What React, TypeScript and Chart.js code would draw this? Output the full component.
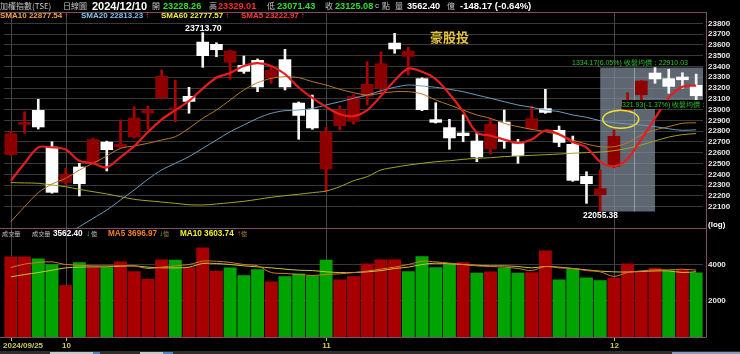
import React, { useEffect, useRef } from "react";
import { Chart, registerables } from "chart.js";

Chart.register(...registerables);

// ---------------- data ----------------
const dates = [
  "2024/09/25", "2024/09/26", "2024/09/27", "2024/09/30",
  "2024/10/01", "2024/10/04", "2024/10/07", "2024/10/08", "2024/10/09", "2024/10/11", "2024/10/14", "2024/10/15",
  "2024/10/16", "2024/10/17", "2024/10/18", "2024/10/21", "2024/10/22", "2024/10/23", "2024/10/24", "2024/10/25",
  "2024/10/28", "2024/10/29", "2024/10/30",
  "2024/11/01", "2024/11/04", "2024/11/05", "2024/11/06", "2024/11/07", "2024/11/08", "2024/11/11", "2024/11/12",
  "2024/11/13", "2024/11/14", "2024/11/15", "2024/11/18", "2024/11/19", "2024/11/20", "2024/11/21", "2024/11/22",
  "2024/11/25", "2024/11/26", "2024/11/27", "2024/11/28", "2024/11/29",
  "2024/12/02", "2024/12/03", "2024/12/04", "2024/12/05", "2024/12/06", "2024/12/09", "2024/12/10",
];

const openP = [22580, 22860, 22996, 22656, 22322, 22471, 22508, 22702, 22650, 22743, 22966, 23105, 23000, 23126, 23629, 23608, 23435, 23413, 23460, 23290, 23466, 23064, 23003, 22447, 22848, 22888, 23120, 23197, 23620, 23490, 23290, 22910, 22836, 22786, 22712, 22632, 22888, 22688, 22817, 23012, 22811, 22681, 22384, 22208, 22471, 22996, 23135, 23342, 23290, 23305, 23228.26];
const highP = [22800, 22980, 23095, 22702, 22456, 22502, 22735, 22708, 22904, 23027, 23033, 23367, 23274, 23207, 23713.7, 23620, 23550, 23497, 23470, 23404, 23559, 23070, 23135, 22836, 23033, 23140, 23444, 23537, 23707, 23578, 23295, 23064, 22910, 22952, 22780, 22919, 22996, 22725, 23033, 23188, 22848, 22755, 22424, 22440, 22811, 23157, 23270, 23389.55, 23374, 23342, 23329.01];
const lowP = [22575, 22780, 22820, 22225, 22310, 22199, 22500, 22431, 22645, 22738, 22817, 23100, 22888, 22966, 23392, 23490, 23281, 23336, 23166, 23244, 23182, 22725, 22817, 22239, 22811, 22866, 23043, 23151, 23522, 23321, 22990, 22875, 22632, 22702, 22517, 22588, 22641, 22502, 22810, 22965, 22656, 22335, 22131, 22055.38, 22460, 22981, 23058, 23244, 23151, 23197, 23071.43];
const closeP = [22780, 22885, 22836, 22230, 22403, 22310, 22725, 22625, 22681, 22925, 22996, 23311, 23015, 23073, 23497, 23552, 23546, 23351, 23207, 23367, 23207, 22943, 22827, 22795, 22996, 23126, 23237, 23429, 23559, 23546, 22996, 22879, 22734, 22755, 22558, 22866, 22702, 22570, 22919, 22971, 22693, 22341, 22310, 22270, 22755, 23033, 23268, 23281, 23212, 23273.25, 23125.08];

const volume = [4448, 4448, 4337, 4022, 2862, 4133, 3856, 3856, 4171, 3635, 3215, 4282, 4265, 3856, 4945, 3657, 3840, 3414, 3746, 3066, 3359, 3508, 3398, 4265, 3177, 3359, 4061, 4282, 4282, 3635, 4464, 3856, 4077, 4133, 3547, 3619, 3823, 3547, 3580, 4779, 3177, 3785, 3287, 3138, 3271, 4061, 3635, 3823, 3674, 3729, 3562.4];

const sma5 = [22341, 22502, 22650, 22650, 22630, 22525, 22502, 22465, 22560, 22660, 22792, 22908, 22995, 23080, 23195, 23295, 23340, 23404, 23430, 23405, 23330, 23205, 23108, 23025, 22957, 22940, 22996, 23125, 23270, 23380, 23350, 23282, 23145, 22982, 22786, 22758, 22722, 22692, 22722, 22806, 22772, 22700, 22648, 22518, 22475, 22545, 22725, 22920, 23110, 23212, 23222.97];
const sma10 = [21961, 22100, 22230, 22310, 22363, 22440, 22502, 22570, 22641, 22663, 22688, 22718, 22749, 22827, 22919, 22996, 23089, 23182, 23249, 23290, 23305, 23296, 23259, 23228, 23188, 23157, 23135, 23151, 23166, 23166, 23145, 23089, 23043, 22996, 22950, 22919, 22873, 22842, 22817, 22795, 22765, 22718, 22681, 22656, 22656, 22693, 22765, 22811, 22842, 22873, 22877.54];
const sma20 = [null, null, null, null, 21840, 21915, 21992, 22069, 22162, 22255, 22354, 22440, 22502, 22564, 22641, 22718, 22795, 22857, 22919, 22966, 22990, 22996, 23012, 23043, 23073, 23105, 23135, 23175, 23207, 23228, 23219, 23207, 23188, 23166, 23135, 23105, 23073, 23043, 23021, 22996, 22981, 22950, 22929, 22897, 22879, 22866, 22857, 22842, 22822, 22808, 22813.23];
const sma60 = [22323, 22320, 22317, 22301, 22285, 22261, 22239, 22218, 22193, 22168, 22155, 22143, 22131, 22118, 22116, 22125, 22137, 22150, 22168, 22187, 22202, 22215, 22230, 22245, 22285, 22341, 22378, 22440, 22465, 22486, 22502, 22517, 22526, 22539, 22548, 22554, 22564, 22570, 22576, 22582, 22588, 22595, 22601, 22607, 22619, 22641, 22672, 22710, 22745, 22768, 22777.57];

const volMa5 = [3840, 4025, 4120, 4150, 4005, 3965, 3930, 3930, 3930, 3930, 3785, 3860, 3930, 4005, 4187, 4187, 4120, 4005, 3930, 3560, 3510, 3455, 3400, 3455, 3490, 3560, 3640, 3750, 3860, 4005, 4187, 4150, 4080, 4005, 3930, 3895, 3860, 3785, 3670, 3895, 3820, 3785, 3670, 3600, 3345, 3565, 3650, 3710, 3710, 3745, 3696.97];
const volMa10 = [3322, 3450, 3560, 3690, 3820, 3860, 3875, 3875, 3910, 3930, 3860, 3820, 3820, 3860, 4060, 4060, 4005, 3930, 3875, 3820, 3750, 3690, 3670, 3600, 3560, 3560, 3600, 3670, 3785, 3860, 4005, 4080, 4040, 4005, 3965, 3930, 3930, 3895, 3820, 3895, 3860, 3785, 3710, 3640, 3600, 3590, 3620, 3650, 3650, 3565, 3603.74];

const priceTicks = [22100, 22200, 22300, 22400, 22500, 22600, 22700, 22800, 22900, 23000, 23100, 23200, 23300, 23400, 23500, 23600, 23700, 23800];
const volTicks = [2000, 4000];
const monthTickDates = ["2024/09/25", "2024/10/01", "2024/11/01", "2024/12/02"];
const monthTickLabels = ["2024/09/25", "10", "11", "12"];

const measureFromDate = "2024/11/29";
const measureToDate = "2024/12/05";
const retrace = 321.93;
const avgClosePrice = 22910.03;
const measureText1 = "1334.17(6.05%) 收盤均價：22910.03";
const measureText2 = "321.93(-1.37%) 收盤均價：2";

// axis ranges
const PRICE_MIN = 21902.4;
const PRICE_MAX = 23904.8;
const VOL_MAX = 6022;

// ---------------- helpers ----------------
const FONT = '"Liberation Sans", Arial, "DejaVu Sans", sans-serif';
const CJK = '"Noto Sans CJK TC", "Noto Sans CJK SC", sans-serif';
const RED = "#ff2a2a";
const GREEN = "#2ee02e";
const GRAY = "#c4c4c4";
const BORDER = "#7a5068";

const L = dates.length - 1;
const isUp = (i: number) => closeP[i] >= openP[i];
const volUp = (i: number) => (i === 0 ? isUp(0) : closeP[i] >= closeP[i - 1]);
const monthIdx = monthTickDates.map((d) => dates.indexOf(d));
const fromIdx = dates.indexOf(measureFromDate);
const toIdx = dates.indexOf(measureToDate);
const fmt = (v: number) => v.toFixed(2);
const arrow = (arr: (number | null)[]) => ((arr[L] as number) >= (arr[L - 1] as number) ? "↑" : "↓");
const arrowColor = (arr: (number | null)[]) => ((arr[L] as number) >= (arr[L - 1] as number) ? RED : GREEN);

const monthLines = {
  id: "monthLines",
  beforeDatasetsDraw(chart: any) {
    const { ctx, chartArea, scales } = chart;
    ctx.save();
    ctx.strokeStyle = "#474747";
    ctx.lineWidth = 1;
    monthIdx.forEach((i) => {
      const px = Math.round(scales.x.getPixelForValue(i)) + 0.5;
      ctx.beginPath();
      ctx.moveTo(px, chartArea.top);
      ctx.lineTo(px, chartArea.bottom);
      ctx.stroke();
    });
    ctx.restore();
  },
};

const borderPlugin = {
  id: "borders",
  afterDraw(chart: any) {
    const { ctx, chartArea } = chart;
    const r = Math.round(chartArea.right) + 3.5;
    ctx.save();
    ctx.strokeStyle = BORDER;
    ctx.lineWidth = 1;
    ctx.beginPath();
    ctx.moveTo(0, Math.round(chartArea.top) + 0.5);
    ctx.lineTo(r, Math.round(chartArea.top) + 0.5);
    ctx.moveTo(r, chartArea.top);
    ctx.lineTo(r, chartArea.bottom);
    ctx.moveTo(0, Math.round(chartArea.bottom) + 0.5);
    ctx.lineTo(r, Math.round(chartArea.bottom) + 0.5);
    ctx.stroke();
    ctx.restore();
  },
};

const measurePlugin = {
  id: "measure",
  beforeDatasetsDraw(chart: any) {
    const { ctx, chartArea, scales } = chart;
    const { x, y } = scales;
    const x0 = x.getPixelForValue(fromIdx);
    const x1 = x.getPixelForValue(toIdx);
    const yTop = y.getPixelForValue(highP[toIdx]);
    const yBot = y.getPixelForValue(lowP[fromIdx]);
    const yB = y.getPixelForValue(highP[toIdx] - retrace);
    ctx.save();
    ctx.fillStyle = "rgba(130,142,158,0.72)";
    ctx.fillRect(x0, yTop, x1 - x0, yBot - yTop);
    ctx.fillRect(x1, yTop, chartArea.right - x1, yB - yTop);
    const xm = Math.round(x.getPixelForValue((fromIdx + toIdx) / 2 + 0.5)) + 0.5;
    ctx.strokeStyle = "rgba(170,205,200,0.55)";
    ctx.beginPath();
    ctx.moveTo(xm, yTop);
    ctx.lineTo(xm, yBot);
    ctx.stroke();
    ctx.restore();
  },
  afterDatasetsDraw(chart: any) {
    const { ctx, scales } = chart;
    const cx = scales.x.getPixelForValue(fromIdx + 1.5);
    const cy = scales.y.getPixelForValue(avgClosePrice);
    ctx.save();
    ctx.strokeStyle = "#ece22a";
    ctx.lineWidth = 1.5;
    ctx.beginPath();
    ctx.ellipse(cx, cy, 18, 9, 0, 0, Math.PI * 2);
    ctx.stroke();
    ctx.restore();
  },
};

const xLabels = {
  id: "xLabels",
  afterDraw(chart: any) {
    const { ctx, chartArea, scales } = chart;
    ctx.save();
    ctx.strokeStyle = "#c8c45a";
    ctx.fillStyle = "#cdca5e";
    ctx.font = `bold 8px ${FONT}`;
    ctx.textBaseline = "middle";
    ctx.textAlign = "left";
    monthIdx.forEach((idx, k) => {
      const px = Math.round(scales.x.getPixelForValue(idx)) + 0.5;
      ctx.beginPath();
      ctx.moveTo(px, chartArea.bottom + 1);
      ctx.lineTo(px, chartArea.bottom + 4);
      ctx.stroke();
      const label = monthTickLabels[k];
      const w = ctx.measureText(label).width;
      const left = Math.max(3, px - w / 2);
      ctx.fillText(label, left, chartArea.bottom + 9);
    });
    ctx.restore();
  },
};

function yAxis(min: number, max: number, ticks: number[]) {
  return {
    position: "right",
    min,
    max,
    afterFit: (s: any) => {
      s.width = 37;
    },
    afterBuildTicks: (s: any) => {
      s.ticks = ticks.map((v) => ({ value: v }));
    },
    ticks: {
      autoSkip: false,
      color: "#e8e8e8",
      padding: 5,
      font: { family: FONT, size: 8, weight: "bold" },
      callback: (v: any) => String(v),
    },
    grid: { color: "#393939", drawTicks: false },
    border: { display: false },
  };
}

function priceConfig(): any {
  return {
    type: "bar",
    data: {
      labels: dates,
      datasets: [
        { type: "line", label: "SMA5", data: sma5, borderColor: "#e81c1c", borderWidth: 2.2, pointRadius: 0, tension: 0.3, order: 0 },
        { type: "line", label: "SMA10", data: sma10, borderColor: "#b8782c", borderWidth: 1, pointRadius: 0, tension: 0.3, order: 1 },
        { type: "line", label: "SMA20", data: sma20, borderColor: "#6a9cbc", borderWidth: 1, pointRadius: 0, tension: 0.3, order: 1 },
        { type: "line", label: "SMA60", data: sma60, borderColor: "#a4a426", borderWidth: 1, pointRadius: 0, tension: 0.3, order: 1 },
        {
          type: "bar",
          label: "body",
          data: openP.map((o, i) => [o, closeP[i]]),
          backgroundColor: (c: any) => (isUp(c.dataIndex) ? "#8e0000" : "#ffffff"),
          grouped: false,
          barPercentage: 0.92,
          categoryPercentage: 1,
          minBarLength: 2,
          order: 2,
        },
        {
          type: "bar",
          label: "wick",
          data: lowP.map((l, i) => [l, highP[i]]),
          backgroundColor: (c: any) => (isUp(c.dataIndex) ? "#b00000" : "#f4f4f4"),
          grouped: false,
          barThickness: 2,
          order: 3,
        },
      ],
    },
    options: {
      responsive: false,
      animation: false,
      devicePixelRatio: 1,
      layout: { padding: { left: 4, right: 0, top: 12, bottom: 126 } },
      plugins: { legend: { display: false }, tooltip: { enabled: false } },
      scales: {
        x: { display: false, offset: true },
        y: yAxis(PRICE_MIN, PRICE_MAX, priceTicks),
      },
    },
    plugins: [monthLines, measurePlugin, borderPlugin],
  };
}

function volConfig(): any {
  return {
    type: "bar",
    data: {
      labels: dates,
      datasets: [
        { type: "line", label: "MA5", data: volMa5, borderColor: "#d27a2a", borderWidth: 1, pointRadius: 0, tension: 0.3, order: 0 },
        { type: "line", label: "MA10", data: volMa10, borderColor: "#c8c83a", borderWidth: 1, pointRadius: 0, tension: 0.3, order: 0 },
        {
          type: "bar",
          label: "vol",
          data: volume,
          backgroundColor: (c: any) => (volUp(c.dataIndex) ? "#a80000" : "#00a400"),
          barPercentage: 0.94,
          categoryPercentage: 1,
          order: 1,
        },
      ],
    },
    options: {
      responsive: false,
      animation: false,
      devicePixelRatio: 1,
      layout: { padding: { left: 4, right: 0, top: 228, bottom: 17 } },
      plugins: { legend: { display: false }, tooltip: { enabled: false } },
      scales: {
        x: { display: false, offset: true },
        y: yAxis(0, VOL_MAX, volTicks),
      },
    },
    plugins: [monthLines, xLabels, borderPlugin],
  };
}

type TP = { x: number; y: number; size: number; color: string; bold?: boolean; cjk?: boolean; bg?: string; children: React.ReactNode };
function T({ x, y, size, color, bold, cjk, bg, children }: TP) {
  const lh = Math.round(size * 1.25);
  return (
    <div
      style={{
        position: "absolute",
        left: x,
        top: y - lh / 2,
        height: lh,
        lineHeight: lh + "px",
        fontSize: size,
        color,
        fontWeight: bold ? 700 : 400,
        fontFamily: cjk ? CJK : FONT,
        whiteSpace: "nowrap",
        background: bg,
      }}
    >
      {children}
    </div>
  );
}

export default function App() {
  const priceRef = useRef<HTMLCanvasElement>(null);
  const volRef = useRef<HTMLCanvasElement>(null);

  useEffect(() => {
    document.body.style.margin = "0";
    document.body.style.background = "#000";
    const pc = new Chart(priceRef.current as HTMLCanvasElement, priceConfig());
    const vc = new Chart(volRef.current as HTMLCanvasElement, volConfig());
    return () => {
      pc.destroy();
      vc.destroy();
    };
  }, []);

  const prevC = closeP[L - 1];
  const pc = (v: number) => (v >= prevC ? RED : GREEN);
  const chg = closeP[L] - prevC;
  const pct = (chg / prevC) * 100;
  const maxHigh = Math.max(...highP);
  const minLow = Math.min(...lowP);

  return (
    <div style={{ position: "relative", width: 740, height: 354, background: "#000", overflow: "hidden" }}>
      <canvas ref={priceRef} width={740} height={354} style={{ position: "absolute", left: 0, top: 0 }} />
      <canvas ref={volRef} width={740} height={354} style={{ position: "absolute", left: 0, top: 0 }} />

      {/* header row 1 */}
      <T x={0} y={5.5} size={8} color={GRAY} cjk>加權指數(TSE)</T>
      <T x={63} y={5.5} size={8} color={GRAY} cjk>日線圖</T>
      <T x={92} y={5.5} size={11} color="#ffffff" bold>{dates[L]}</T>
      <T x={152} y={5.5} size={8} color={GRAY} cjk>開</T>
      <T x={163} y={5.5} size={9.2} color={pc(openP[L])} bold>{fmt(openP[L])}</T>
      <T x={209} y={5.5} size={8} color={GRAY} cjk>高</T>
      <T x={218} y={5.5} size={9.2} color={pc(highP[L])} bold>{fmt(highP[L])}</T>
      <T x={267} y={5.5} size={8} color={GRAY} cjk>低</T>
      <T x={277} y={5.5} size={9.2} color={pc(lowP[L])} bold>{fmt(lowP[L])}</T>
      <T x={325} y={5.5} size={8} color={GRAY} cjk>收</T>
      <T x={335} y={5.5} size={9.2} color={pc(closeP[L])} bold>{fmt(closeP[L])}</T>
      <T x={375} y={5.5} size={8} color={GRAY}>c</T>
      <T x={382} y={5.5} size={8} color={GRAY} cjk>點</T>
      <T x={395} y={5.5} size={8} color={GRAY} cjk>量</T>
      <T x={407} y={5.5} size={9.2} color="#ffffff" bold>{fmt(volume[L])}</T>
      <T x={447} y={5.5} size={8} color={GRAY} cjk>億</T>
      <T x={460} y={5.5} size={9.5} color="#ffffff" bold>{`${fmt(chg)} (${pct.toFixed(2)}%)`}</T>

      {/* header row 2 : moving averages */}
      <T x={0} y={16.2} size={8} color="#f0a040" bold>
        {`SMA10 ${fmt(sma10[L])}`}<span style={{ color: arrowColor(sma10), marginLeft: 2 }}>{arrow(sma10)}</span>
      </T>
      <T x={81} y={16.2} size={8} color="#78c8f0" bold>
        {`SMA20 ${fmt(sma20[L] as number)}`}<span style={{ color: arrowColor(sma20), marginLeft: 2 }}>{arrow(sma20)}</span>
      </T>
      <T x={161} y={16.2} size={8} color="#f0f038" bold>
        {`SMA60 ${fmt(sma60[L])}`}<span style={{ color: arrowColor(sma60), marginLeft: 2 }}>{arrow(sma60)}</span>
      </T>
      <T x={241} y={16.2} size={8} color="#ff3a3a" bold>
        {`SMA5 ${fmt(sma5[L])}`}<span style={{ color: arrowColor(sma5), marginLeft: 2 }}>{arrow(sma5)}</span>
      </T>

      {/* price annotations */}
      <T x={185} y={28} size={8.8} color="#ffffff" bold>{fmt(maxHigh)}</T>
      <T x={583} y={215.5} size={8.4} color="#ffffff" bold>{fmt(minLow)}</T>
      <T x={430} y={37} size={13} color="#e6c43c" bold cjk>豪股投</T>
      <T x={572} y={62} size={7} color="#2cc82c">{measureText1}</T>
      <div style={{ position: "absolute", left: 622, top: 100, width: 83, height: 9, overflow: "hidden" }}>
        <div style={{ position: "absolute", left: 0, top: 0, height: 9, lineHeight: "9px", fontSize: 7, color: "#2cc82c", fontFamily: FONT, whiteSpace: "nowrap", background: "#000" }}>
          {measureText2}
        </div>
      </div>
      <T x={708} y={225} size={8} color="#ffffff" bold>(log)</T>

      {/* volume header */}
      <T x={2} y={234} size={6.2} color={GRAY} cjk>成交量</T>
      <T x={32} y={234} size={6.2} color={GRAY} cjk>成交量</T>
      <T x={53} y={234} size={8.2} color="#ffffff" bold>{fmt(volume[L])}</T>
      <T x={86} y={234} size={8} color={arrowColor(volume)} bold>{arrow(volume)}</T>
      <T x={91} y={234} size={6.2} color={GRAY} cjk>億</T>
      <T x={108} y={234} size={8.2} color="#f08028" bold>{`MA5 ${fmt(volMa5[L])}`}</T>
      <T x={159} y={234} size={8} color={arrowColor(volMa5)} bold>{arrow(volMa5)}</T>
      <T x={163} y={234} size={6.2} color="#b08040" cjk>億</T>
      <T x={180} y={234} size={8.2} color="#f0f030" bold>{`MA10 ${fmt(volMa10[L])}`}</T>
      <T x={237} y={234} size={8} color={arrowColor(volMa10)} bold>{arrow(volMa10)}</T>
      <T x={241} y={234} size={6.2} color="#b08040" cjk>億</T>

      {/* bottom toolbar strip */}
      <div style={{ position: "absolute", left: 0, top: 351, width: 740, height: 3, background: "#2e2e2e" }} />
      <div style={{ position: "absolute", left: 50, top: 352, width: 43, height: 2, background: "#c8c8c8" }} />
      <div style={{ position: "absolute", left: 93, top: 352, width: 7, height: 2, background: "#4a88c8" }} />
      <div style={{ position: "absolute", left: 140, top: 352, width: 23, height: 2, background: "#c8c8c8" }} />
      <div style={{ position: "absolute", left: 163, top: 352, width: 10, height: 2, background: "#4a88c8" }} />
      <div style={{ position: "absolute", left: 672, top: 352, width: 68, height: 2, background: "#8a9ab8" }} />
    </div>
  );
}
